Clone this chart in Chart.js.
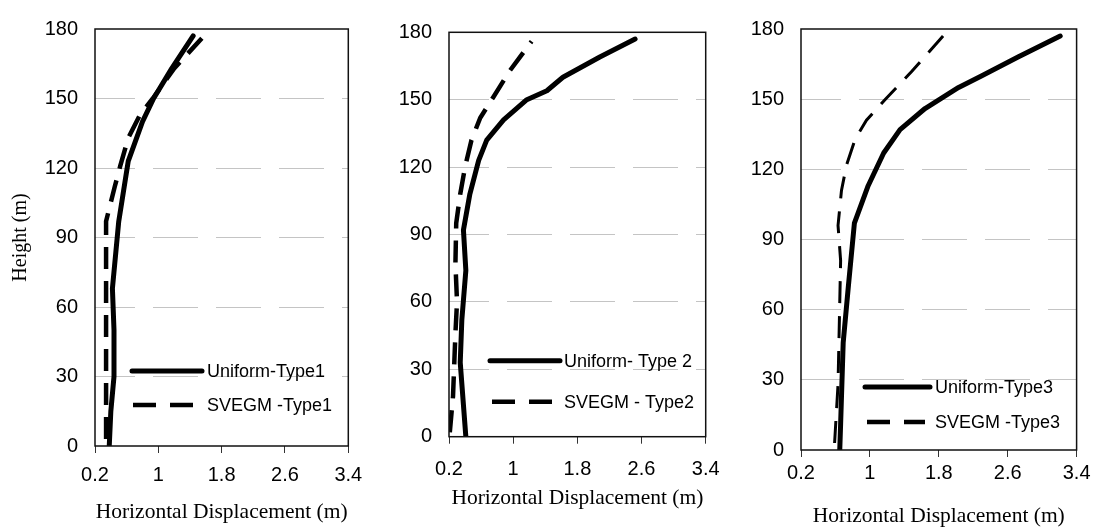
<!DOCTYPE html>
<html>
<head>
<meta charset="utf-8">
<script src="https://cdn.jsdelivr.net/npm/chart.js@4.4.0/dist/chart.umd.min.js"></script>
<style>
  html, body { margin: 0; padding: 0; background: #fff; }
  #wrap { position: relative; width: 1095px; height: 532px; overflow: hidden; }
  canvas { position: absolute; left: 0; top: 0; }
</style>
</head>
<body>
<div id="wrap">
  <canvas id="c1" width="1095" height="532"></canvas>
  <canvas id="c2" width="1095" height="532"></canvas>
  <canvas id="c3" width="1095" height="532"></canvas>
</div>
<script>
// ---- tick labels ----
const xTickValues = [0.2, 1, 1.8, 2.6, 3.4];
const yTickValues = [0, 30, 60, 90, 120, 150, 180];

// ---- Panel 1 ----
const uniform1H = [0, 15, 30, 50, 68, 97, 123, 140, 150, 163, 177];
const uniform1X = [0.38, 0.40, 0.44, 0.44, 0.42, 0.50, 0.62, 0.80, 0.94, 1.17, 1.44];
const svegm1H   = [3, 97, 112, 121, 133, 143, 150, 163, 176];
const svegm1X   = [0.34, 0.34, 0.45, 0.52, 0.62, 0.77, 0.93, 1.20, 1.55];

// ---- Panel 2 ----
const uniform2H = [0, 33, 52, 74, 92, 108, 123, 132, 141, 150, 154, 160, 169, 177];
const uniform2X = [0.41, 0.34, 0.36, 0.41, 0.38, 0.46, 0.57, 0.67, 0.88, 1.17, 1.42, 1.62, 2.08, 2.52];
const svegm2H   = [2, 18, 46, 60, 77, 95, 108, 120, 132, 142, 151, 163, 176];
const svegm2X   = [0.21, 0.25, 0.28, 0.30, 0.28, 0.29, 0.34, 0.40, 0.48, 0.59, 0.75, 0.96, 1.23];

// ---- Panel 3 ----
const uniform3H = [0, 11, 46, 70, 97, 113, 127, 137, 146, 155, 160, 168, 177];
const uniform3X = [0.65, 0.66, 0.69, 0.75, 0.82, 0.98, 1.16, 1.35, 1.64, 2.03, 2.30, 2.72, 3.21];
const svegm3H   = [3, 28, 63, 81, 96, 111, 122, 133, 141, 150, 162, 177];
const svegm3X   = [0.59, 0.63, 0.65, 0.66, 0.63, 0.67, 0.73, 0.83, 0.96, 1.18, 1.49, 1.85];

// ---- legend labels ----
const legend1 = ['Uniform-Type1', 'SVEGM -Type1'];
const legend2 = ['Uniform- Type 2', 'SVEGM - Type2'];
const legend3 = ['Uniform-Type3', 'SVEGM -Type3'];

const axisTitleX = 'Horizontal Displacement (m)';
const axisTitleY = 'Height (m)';

const W = 1095, H = 532;
const pts = (xs, hs) => xs.map((v, i) => ({ x: v, y: hs[i] }));

const frame = {
  id: 'frame',
  afterDraw(chart) {
    const { ctx, chartArea: a } = chart;
    ctx.save();
    ctx.strokeStyle = '#111';
    ctx.lineWidth = 1.5;
    ctx.setLineDash([]);
    ctx.strokeRect(a.left, a.top, a.right - a.left, a.bottom - a.top);
    ctx.restore();
  }
};

const legendPlugin = {
  id: 'customLegend',
  afterDraw(chart, args, opts) {
    const { ctx, chartArea: a } = chart;
    ctx.save();
    ctx.font = '18px "Liberation Sans", Arial, sans-serif';
    ctx.fillStyle = '#000';
    ctx.textBaseline = 'middle';
    ctx.textAlign = 'left';
    opts.items.forEach(it => {
      const y = a.bottom + it.dy;
      ctx.beginPath();
      ctx.strokeStyle = '#000';
      ctx.lineWidth = it.width;
      ctx.lineCap = it.dash.length ? 'butt' : 'round';
      ctx.setLineDash(it.dash);
      ctx.moveTo(a.left + it.x1, y);
      ctx.lineTo(a.left + it.x2, y);
      ctx.stroke();
      ctx.setLineDash([]);
      ctx.fillText(it.label, a.left + opts.textX, y + 1);
    });
    ctx.restore();
  }
};

function makeChart(id, cfg) {
  const yw = cfg.yw, xh = cfg.xh;
  return new Chart(document.getElementById(id), {
    type: 'line',
    data: {
      datasets: [
        {
          label: cfg.labels[1],
          data: pts(cfg.sx, cfg.sh),
          borderColor: '#000',
          borderWidth: cfg.dashW,
          borderDash: cfg.dash,
          borderCapStyle: 'butt',
          pointRadius: 0,
          tension: 0,
          fill: false
        },
        {
          label: cfg.labels[0],
          data: pts(cfg.ux, cfg.uh),
          borderColor: '#000',
          borderWidth: 5,
          borderCapStyle: 'round',
          borderJoinStyle: 'round',
          pointRadius: 0,
          tension: 0,
          fill: false
        }
      ]
    },
    options: {
      responsive: false,
      animation: false,
      events: [],
      layout: {
        padding: {
          left: cfg.L - yw,
          right: W - cfg.R,
          top: cfg.T,
          bottom: H - cfg.B - xh
        }
      },
      plugins: {
        legend: { display: false },
        tooltip: { enabled: false },
        customLegend: { items: cfg.legendItems, textX: cfg.textX }
      },
      scales: {
        x: {
          type: 'linear',
          min: 0.2,
          max: 3.4,
          afterBuildTicks(s) { s.ticks = xTickValues.map(v => ({ value: v })); },
          afterFit(s) { s.height = xh; },
          ticks: {
            color: '#000',
            font: { family: '"Liberation Sans", Arial, sans-serif', size: 20 },
            padding: cfg.xPad,
            maxRotation: 0,
            callback: v => String(v)
          },
          grid: {
            drawOnChartArea: false,
            drawTicks: true,
            tickLength: 7,
            tickColor: '#333',
            tickWidth: 1
          },
          border: { display: false },
          title: {
            display: true,
            text: axisTitleX,
            color: '#000',
            font: { family: '"Liberation Serif", "Times New Roman", serif', size: 21.5 },
            padding: 0
          }
        },
        y: {
          type: 'linear',
          min: 0,
          max: 180,
          afterBuildTicks(s) { s.ticks = yTickValues.map(v => ({ value: v })); },
          afterFit(s) { s.width = yw; },
          ticks: {
            color: '#000',
            font: { family: '"Liberation Sans", Arial, sans-serif', size: 20 },
            padding: 17
          },
          grid: {
            drawTicks: false,
            color: c => (c.tick && (c.tick.value === 0 || c.tick.value === 180)) ? 'rgba(0,0,0,0)' : '#c4c4c4',
            lineWidth: 1,
            borderDash: [45, 18],
            borderDashOffset: 5
          },
          border: { display: false, dash: [45, 18], dashOffset: 5 },
          title: {
            display: !!cfg.yTitle,
            text: axisTitleY,
            color: '#000',
            font: { family: '"Liberation Serif", "Times New Roman", serif', size: 20 },
            padding: 0
          }
        }
      }
    },
    plugins: [frame, legendPlugin]
  });
}

makeChart('c1', {
  L: 95, R: 348.3, T: 27, B: 446, yw: 86, xh: 79, xPad: 10, yTitle: true,
  ux: uniform1X, uh: uniform1H, sx: svegm1X, sh: svegm1H,
  dash: [22, 12], dashW: 4.5, labels: legend1, textX: 112,
  legendItems: [
    { label: legend1[0], x1: 37, x2: 107, dy: -75, dash: [], width: 5 },
    { label: legend1[1], x1: 38, x2: 98, dy: -41, dash: [23, 14], width: 4.5 }
  ]
});

makeChart('c2', {
  L: 449, R: 705.7, T: 32.3, B: 436.7, yw: 60, xh: 74.3, xPad: 13.5, yTitle: false,
  ux: uniform2X, uh: uniform2H, sx: svegm2X, sh: svegm2H,
  dash: [22, 12], dashW: 4.5, labels: legend2, textX: 115,
  legendItems: [
    { label: legend2[0], x1: 41, x2: 111, dy: -76, dash: [], width: 5 },
    { label: legend2[1], x1: 43, x2: 104, dy: -35, dash: [23, 14], width: 4.5 }
  ]
});

makeChart('c3', {
  L: 801, R: 1076.7, T: 22, B: 450, yw: 60, xh: 79, xPad: 4.5, yTitle: false,
  ux: uniform3X, uh: uniform3H, sx: svegm3X, sh: svegm3H,
  dash: [22, 13], dashW: 3, labels: legend3, textX: 134,
  legendItems: [
    { label: legend3[0], x1: 64, x2: 129, dy: -63, dash: [], width: 5 },
    { label: legend3[1], x1: 66, x2: 124, dy: -28, dash: [23, 14], width: 4.5 }
  ]
});
</script>
</body>
</html>
